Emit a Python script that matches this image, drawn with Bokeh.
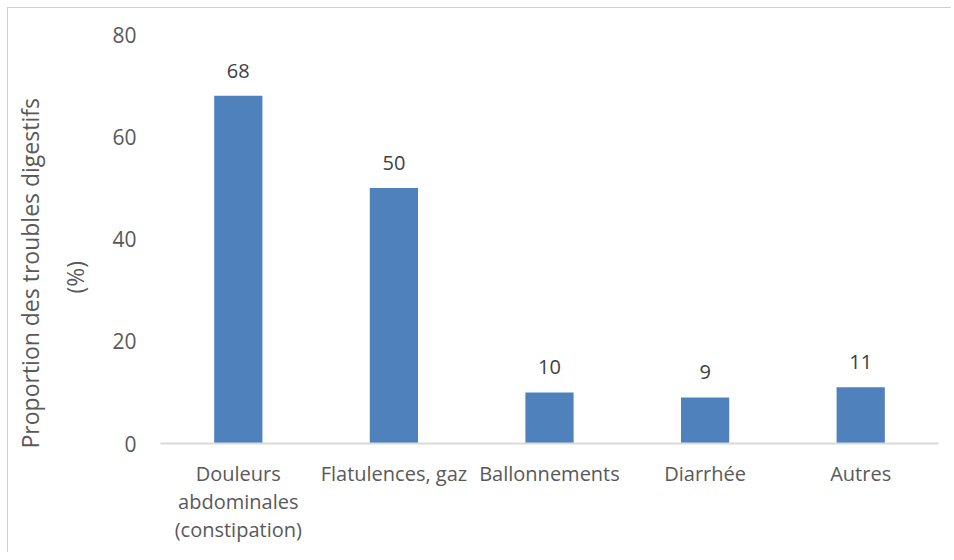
from bokeh.plotting import figure
from bokeh.models import ColumnDataSource, LabelSet, Title, FactorRange, Range1d, FixedTicker
from bokeh.core.properties import value
from bokeh.embed import file_html
from bokeh.resources import INLINE

categories = ["Douleurs\nabdominales\n(constipation)", "Flatulences, gaz", "Ballonnements", "Diarrhée", "Autres"]
values = [68, 50, 10, 9, 11]
labels = ["68", "50", "10", "9", "11"]
y_ticks = [0, 20, 40, 60, 80]
y_title_1 = "Proportion des troubles digestifs"
y_title_2 = "(%)"

src = ColumnDataSource(dict(x=categories, top=values, lab=labels))

FONT = "Open Sans"
TXT = "#595959"

p = figure(width=944, height=545, x_range=FactorRange(*categories, range_padding=0),
           y_range=Range1d(0, 80), output_backend="svg", toolbar_location=None,
           min_border_left=152, min_border_right=14, min_border_top=26, min_border_bottom=110)
p.styles = {"margin-left": "7px", "margin-top": "7px",
            "border-left": "1px solid #d0d0d0", "border-top": "1px solid #d0d0d0"}
p.outline_line_color = None
p.xgrid.grid_line_color = None
p.ygrid.grid_line_color = None

p.vbar(x="x", top="top", width=0.31, source=src, fill_color="#4F81BD", line_color=None)

labs = LabelSet(x="x", y="top", text="lab", source=src, text_align="center", text_baseline="middle",
                y_offset=25, text_font=value(FONT), text_font_size="20px", text_color="#404040")
p.add_layout(labs)

t2 = Title(text=y_title_2, align="left", offset=150, standoff=38, text_font=FONT,
           text_font_size="23px", text_font_style="normal", text_color=TXT)
p.add_layout(t2, "left")
t1 = Title(text=y_title_1, align="left", offset=-5, standoff=-16, text_font=FONT,
           text_font_size="23px", text_font_style="normal", text_color=TXT)
p.add_layout(t1, "left")

p.yaxis.ticker = FixedTicker(ticks=y_ticks)
p.yaxis.axis_line_color = None
p.yaxis.major_tick_line_color = None
p.yaxis.minor_tick_line_color = None
p.yaxis.major_label_text_font = FONT
p.yaxis.major_label_text_font_size = "21px"
p.yaxis.major_label_text_color = TXT
p.yaxis.major_label_standoff = 18

p.xaxis.axis_line_color = "#D9D9D9"
p.xaxis.axis_line_width = 2
p.xaxis.major_tick_line_color = None
p.xaxis.minor_tick_line_color = None
p.xaxis.major_label_text_font = FONT
p.xaxis.major_label_text_font_size = "20px"
p.xaxis.major_label_text_color = TXT
p.xaxis.major_label_text_line_height = 1.05
p.xaxis.major_label_standoff = 10
p.xaxis.major_label_orientation = "horizontal"

open("out.html", "w").write(file_html(p, INLINE))
